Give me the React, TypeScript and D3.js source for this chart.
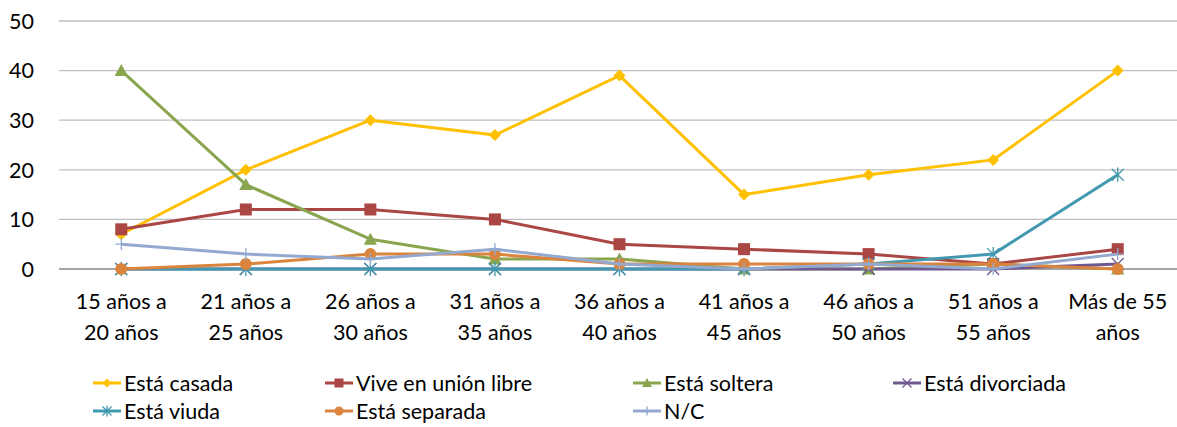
import React from "react";
import * as d3 from "d3";

const categories = [
  ["15 años a", "20 años"],
  ["21 años a", "25 años"],
  ["26 años a", "30 años"],
  ["31 años a", "35 años"],
  ["36 años a", "40 años"],
  ["41 años a", "45 años"],
  ["46 años a", "50 años"],
  ["51 años a", "55 años"],
  ["Más de 55", "años"],
];

const casada = [7, 20, 30, 27, 39, 15, 19, 22, 40];
const unionLibre = [8, 12, 12, 10, 5, 4, 3, 1, 4];
const soltera = [40, 17, 6, 2, 2, 0, 0, 1, 0];
const divorciada = [0, 0, 0, 0, 0, 0, 0, 0, 1];
const viuda = [0, 0, 0, 0, 0, 0, 1, 3, 19];
const separada = [0, 1, 3, 3, 1, 1, 1, 1, 0];
const nc = [5, 3, 2, 4, 1, 0, 1, 0, 3];

const yTicks = [0, 10, 20, 30, 40, 50];

const series = [
  { name: "Está casada", values: casada, color: "#FFC000", marker: "diamond" },
  { name: "Vive en unión libre", values: unionLibre, color: "#AA4643", marker: "square" },
  { name: "Está soltera", values: soltera, color: "#89A54E", marker: "triangle" },
  { name: "Está divorciada", values: divorciada, color: "#71588F", marker: "x" },
  { name: "Está viuda", values: viuda, color: "#4198AF", marker: "star" },
  { name: "Está separada", values: separada, color: "#DB843D", marker: "circle" },
  { name: "N/C", values: nc, color: "#93A9CF", marker: "plus" },
];

const W = 1177;
const H = 427;
const FONT = "Lato, 'Open Sans', sans-serif";
const FS = 21.5;

function Marker({ type, x, y, color, s = 1 }: { type: string; x: number; y: number; color: string; s?: number }) {
  const r = 6 * s;
  switch (type) {
    case "diamond":
      return <path d={`M${x},${y - r}L${x + r},${y}L${x},${y + r}L${x - r},${y}Z`} fill={color} />;
    case "square":
      return <rect x={x - r} y={y - r} width={2 * r} height={2 * r} fill={color} />;
    case "triangle":
      return <path d={`M${x},${y - r * 1.1}L${x + r * 1.1},${y + r * 0.9}L${x - r * 1.1},${y + r * 0.9}Z`} fill={color} />;
    case "circle":
      return <circle cx={x} cy={y} r={r} fill={color} />;
    case "x":
      return (
        <path d={`M${x - r},${y - r}L${x + r},${y + r}M${x - r},${y + r}L${x + r},${y - r}`} stroke={color} strokeWidth={1.3} fill="none" />
      );
    case "star":
      return (
        <path
          d={`M${x - r},${y - r}L${x + r},${y + r}M${x - r},${y + r}L${x + r},${y - r}M${x},${y - r * 1.2}L${x},${y + r * 1.2}`}
          stroke={color}
          strokeWidth={1.3}
          fill="none"
        />
      );
    case "plus":
      return <path d={`M${x - r},${y}L${x + r},${y}M${x},${y - r}L${x},${y + r}`} stroke={color} strokeWidth={1.3} fill="none" />;
    default:
      return null;
  }
}

export default function App() {
  const x = d3.scaleBand<number>().domain(d3.range(categories.length)).range([59, 1180]);
  const y = d3.scaleLinear().domain([0, 50]).range([269, 21]);
  const cx = (i: number) => (x(i) as number) + x.bandwidth() / 2;
  const line = d3
    .line<number>()
    .x((_, i) => cx(i))
    .y((d) => y(d));

  const legendCols = [93, 325, 633, 893];
  const legendRows = [383, 411];

  return (
    <svg width={W} height={H} style={{ position: "absolute", left: 0, top: 0, fontFamily: FONT }}>
      <rect width={W} height={H} fill="#fff" />
      {yTicks.map((t) => (
        <g key={t}>
          {t > 0 && <line x1={59} x2={1177} y1={y(t)} y2={y(t)} stroke="#BFBFBF" strokeWidth={1.3} />}
          <text x={34} y={y(t)} dy="0.36em" textAnchor="end" fontSize={FS} fill="#000">
            {t}
          </text>
        </g>
      ))}
      <line x1={59} x2={1177} y1={y(0)} y2={y(0)} stroke="#868686" strokeWidth={1.3} />
      {categories.map((c, i) => (
        <text key={i} textAnchor="middle" fontSize={FS} fill="#000">
          <tspan x={cx(i)} y={309}>
            {c[0]}
          </tspan>
          <tspan x={cx(i)} y={340}>
            {c[1]}
          </tspan>
        </text>
      ))}
      {series.map((s) => (
        <g key={s.name}>
          <path d={line(s.values) || ""} fill="none" stroke={s.color} strokeWidth={3} strokeLinejoin="round" />
          {s.values.map((v, i) => (
            <Marker key={i} type={s.marker} x={cx(i)} y={y(v)} color={s.color} />
          ))}
        </g>
      ))}
      {series.map((s, k) => {
        const lx = legendCols[k % 4];
        const ly = legendRows[Math.floor(k / 4)];
        return (
          <g key={s.name}>
            <line x1={lx} x2={lx + 28} y1={ly} y2={ly} stroke={s.color} strokeWidth={3} />
            <Marker type={s.marker} x={lx + 14} y={ly} color={s.color} s={0.75} />
            <text x={lx + 31} y={ly} dy="0.36em" fontSize={FS} fill="#000">
              {s.name}
            </text>
          </g>
        );
      })}
    </svg>
  );
}
